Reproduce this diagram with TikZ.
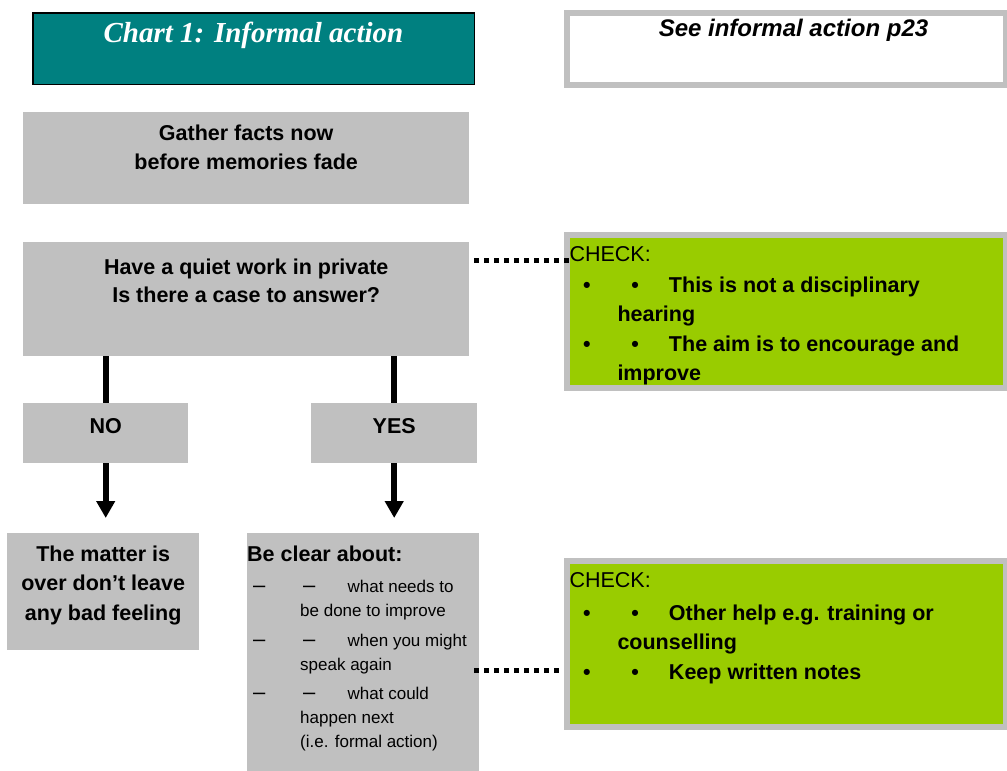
\documentclass[tikz,border=0pt]{standalone}
\usepackage{fontspec}
\setmainfont{Liberation Sans}
\newfontfamily\serifttl{Liberation Serif}
\usetikzlibrary{arrows.meta,positioning}
\definecolor{boxgray}{HTML}{C0C0C0}
\definecolor{tealbox}{HTML}{008080}
\definecolor{checkgreen}{HTML}{99CC00}
% box body: width, height, gap above first line, text
\newcommand{\boxtext}[4]{\parbox[c][#2][t]{#1}{\vspace*{#3}#4}}
\newcommand{\twobullets}{\makebox[0pt][l]{\hspace{16pt}\textbullet}\makebox[0pt][l]{\hspace{64.25pt}\textbullet}\hspace*{102pt}}
\newcommand{\longdash}{{\fontsize{22}{24}\selectfont –}}
\newcommand{\twodashes}{\makebox[0pt][l]{\hspace{6pt}\longdash}\makebox[0pt][l]{\hspace{56pt}\longdash}\hspace*{100.5pt}}

\begin{document}
\begin{tikzpicture}[x=1pt,y=-1pt,>=Latex,
    graybox/.style={fill=boxgray,inner sep=0pt,anchor=north west,font=\bfseries\fontsize{21.5}{29}\selectfont},
    checkbox/.style={fill=checkgreen,draw=boxgray,line width=6pt,inner sep=0pt,anchor=north west,font=\fontsize{21.5}{29.5}\selectfont},
    vline/.style={line width=6pt},
    varrow/.style={line width=6pt,-{Triangle[width=18pt,length=17pt]}},
    dotline/.style={line width=5pt,dash pattern=on 4.5pt off 5.5pt}]
    \useasboundingbox (0,0) rectangle (1007,771);
    % headings
    \node (title) at (32,12) [anchor=north west,inner sep=0pt,draw=black,line width=1.5pt,fill=tealbox,text=white,
        font=\serifttl\bfseries\itshape\fontsize{29}{32}\selectfont]
        {\boxtext{441.5pt}{71.5pt}{9pt}{\centering Chart 1: Informal action}};
    \node (see) at (564,10) [anchor=north west,inner sep=0pt,draw=boxgray,line width=6pt,fill=white,
        font=\bfseries\itshape\fontsize{24}{27}\selectfont]
        {\boxtext{439pt}{72pt}{6.2pt}{\centering\hspace*{14pt}See informal action p23}};
    % main column
    \node (gather) at (23,112) [graybox]
        {\boxtext{446pt}{92pt}{13pt}{\centering Gather facts now\\ before memories fade}};
    \node (quiet) at (23,242) [graybox,font=\bfseries\fontsize{21.5}{28}\selectfont]
        {\boxtext{446pt}{114pt}{16.3pt}{\centering Have a quiet work in private\\ Is there a case to answer?}};
    \node (no) at (23,403) [graybox]
        {\boxtext{165pt}{60pt}{15.3pt}{\centering NO}};
    \node (yes) at (311,403) [graybox]
        {\boxtext{166pt}{60pt}{15.3pt}{\centering YES}};
    \node (matter) at (7,533) [graybox,font=\bfseries\fontsize{21.5}{29.5}\selectfont]
        {\boxtext{192pt}{117pt}{12.3pt}{\centering The matter is\\ over don’t leave\\ any bad feeling}};
    \node (beclear) at (247,533) [graybox]
        {\boxtext{232pt}{240pt}{12.5pt}{\fontsize{21.5}{24}\selectfont Be clear about:\\[7pt]
        \fontsize{17}{24}\selectfont\mdseries\twodashes what needs to\\
        \hspace*{53pt}be done to improve\\[6.5pt]
        \twodashes when you might\\
        \hspace*{53pt}speak again\\[5pt]
        \twodashes what could\\
        \hspace*{53pt}happen next\\
        \hspace*{53pt}(i.e. formal action)}};
    % check boxes
    \node (check1) at (564,232) [checkbox]
        {\boxtext{439pt}{153pt}{11.3pt}{\hspace*{2.5pt}CHECK:\\[1.5pt]
        \bfseries\twobullets This is not a disciplinary\\
        \hspace*{50.5pt}hearing\\
        \twobullets The aim is to encourage and\\
        \hspace*{50.5pt}improve}};
    \node (check2) at (564,558) [checkbox]
        {\boxtext{439pt}{166pt}{11.6pt}{\hspace*{2.5pt}CHECK:\\[3pt]
        \bfseries\twobullets Other help e.g. training or\\
        \hspace*{50.5pt}counselling\\
        \twobullets Keep written notes}};
    % connectors
    \draw[vline] (quiet.south -| no.north) -- (no.north);
    \draw[vline] (quiet.south -| yes.north) -- (yes.north);
    \draw[varrow] (no.south) -- ([yshift=15pt]matter.north -| no.south);
    \draw[varrow] (yes.south) -- ([yshift=15pt]beclear.north -| yes.south);
    \draw[dotline] ([xshift=5pt,yshift=-18.5pt]quiet.north east) -- ([xshift=5pt,yshift=-18.5pt]quiet.north east -| check1.west);
    \draw[dotline] ([xshift=-5pt,yshift=-137pt]beclear.north east) -- ([xshift=-5pt,yshift=-137pt]beclear.north east -| check2.west);
\end{tikzpicture}
\end{document}
